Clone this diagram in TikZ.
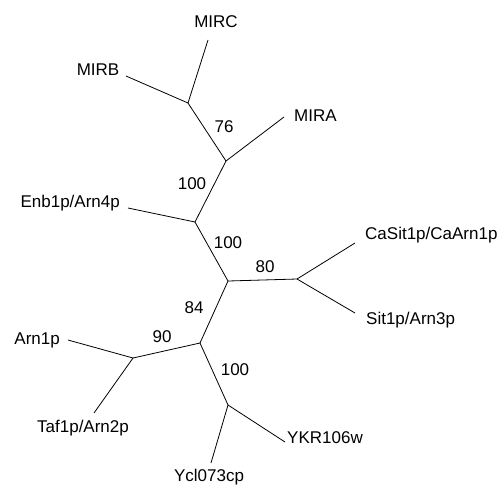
\documentclass[tikz,border=0pt]{standalone}
\usepackage{fontspec}
\setmainfont{Liberation Sans}
\begin{document}
\begin{tikzpicture}[x=1pt,y=-1pt,
  branch/.style={draw=black,line width=0.8pt},
  lab/.style={font=\fontsize{17}{19}\selectfont,inner sep=0pt},
  boot/.style={font=\fontsize{17}{19}\selectfont,inner sep=0pt}]
\useasboundingbox[fill=white] (0,0) rectangle (502,491);
% internal nodes
\coordinate (A) at (188,103);
\coordinate (B) at (226,161);
\coordinate (C) at (195,222);
\coordinate (D) at (228,281);
\coordinate (F) at (297,279);
\coordinate (E) at (200,343);
\coordinate (G) at (133,358);
\coordinate (H) at (228,405);
% leaf ends
\coordinate (lMIRC) at (208,40);
\coordinate (lMIRB) at (126,76);
\coordinate (lMIRA) at (284,117);
\coordinate (lEnb) at (128,208);
\coordinate (lCaSit) at (355,243);
\coordinate (lSit) at (355,313);
\coordinate (lArn1) at (68,340);
\coordinate (lTaf) at (94,413);
\coordinate (lYKR) at (285,442);
\coordinate (lYcl) at (211,463);
% labels
\node[lab] (MIRC) at (216,22) {MIRC};
\node[lab] (MIRB) at (98,70) {MIRB};
\node[lab,anchor=west] (MIRA) at (294,116) {MIRA};
\node[lab,anchor=east] (Enb) at (120,203) {Enb1p/Arn4p};
\node[lab,anchor=west] (CaSit) at (365,235) {CaSit1p/CaArn1p};
\node[lab,anchor=west] (Sit) at (366,320) {Sit1p/Arn3p};
\node[lab,anchor=east] (Arn1) at (60,340) {Arn1p};
\node[lab] (Taf) at (83,428) {Taf1p/Arn2p};
\node[lab,anchor=west] (YKR) at (287,438) {YKR106w};
\node[lab] (Ycl) at (209,477) {Ycl073cp};
% bootstrap values
\node[boot] (b76) at (224,127) {76};
\node[boot] (b100a) at (192,184) {100};
\node[boot] (b100b) at (228,243) {100};
\node[boot] (b80) at (265,267) {80};
\node[boot] (b84) at (194,308) {84};
\node[boot] (b90) at (162,337) {90};
\node[boot] (b100c) at (235,370) {100};
% branches
\draw[branch] (A) -- (lMIRC);
\draw[branch] (A) -- (lMIRB);
\draw[branch] (A) -- (B);
\draw[branch] (B) -- (lMIRA);
\draw[branch] (B) -- (C);
\draw[branch] (C) -- (lEnb);
\draw[branch] (C) -- (D);
\draw[branch] (D) -- (F);
\draw[branch] (F) -- (lCaSit);
\draw[branch] (F) -- (lSit);
\draw[branch] (D) -- (E);
\draw[branch] (E) -- (G);
\draw[branch] (G) -- (lArn1);
\draw[branch] (G) -- (lTaf);
\draw[branch] (E) -- (H);
\draw[branch] (H) -- (lYKR);
\draw[branch] (H) -- (lYcl);
\end{tikzpicture}
\end{document}
